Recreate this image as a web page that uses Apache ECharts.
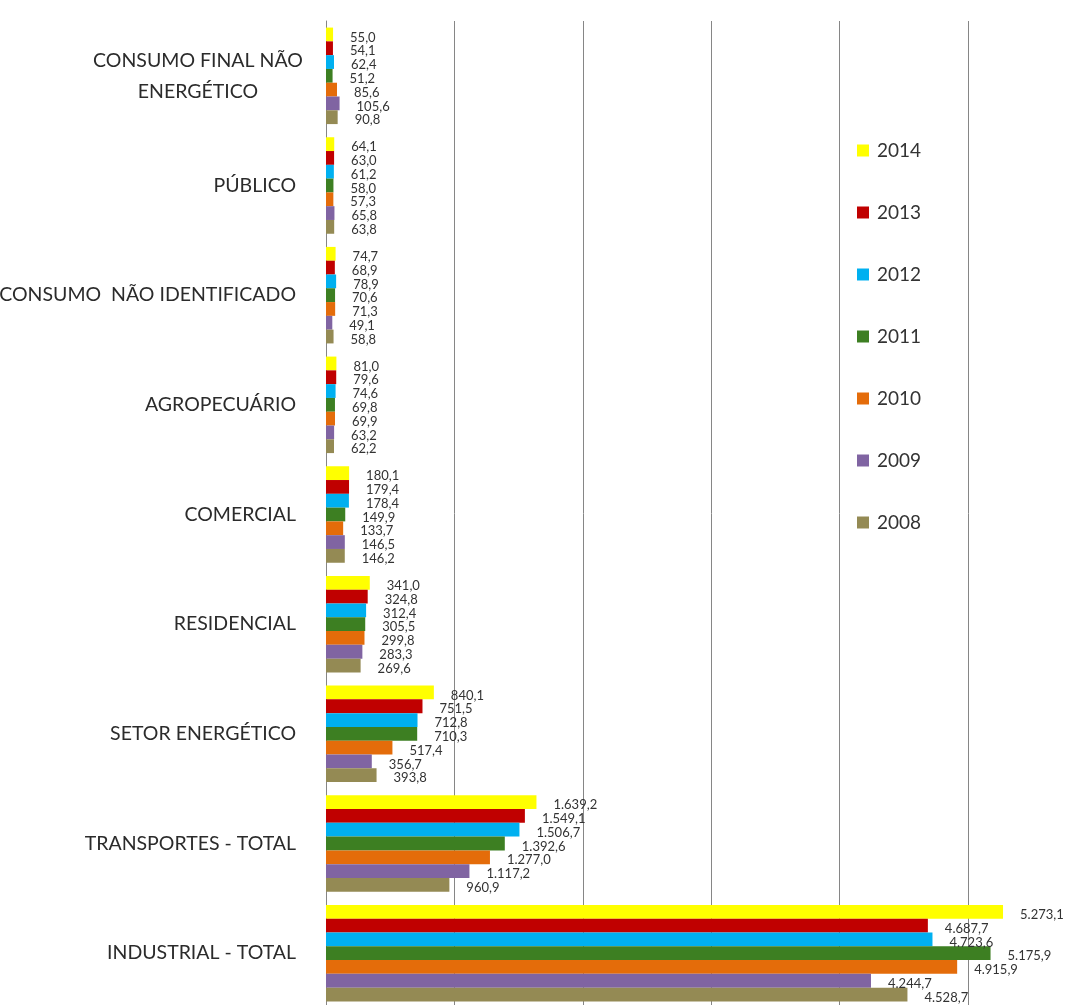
<!DOCTYPE html>
<html>
<head>
<meta charset="utf-8">
<script src="https://cdn.jsdelivr.net/npm/echarts@6/dist/echarts.min.js"></script>
<style>html,body{margin:0;padding:0;background:#fff}#c{width:1083px;height:1005px}</style>
</head>
<body>
<div id="c"></div>
<script>
const categories = ["CONSUMO FINAL NÃO\nENERGÉTICO", "PÚBLICO", "CONSUMO  NÃO IDENTIFICADO", "AGROPECUÁRIO", "COMERCIAL", "RESIDENCIAL", "SETOR ENERGÉTICO", "TRANSPORTES - TOTAL", "INDUSTRIAL - TOTAL"];
const years = ["2014", "2013", "2012", "2011", "2010", "2009", "2008"];
const v2014 = [55.0, 64.1, 74.7, 81.0, 180.1, 341.0, 840.1, 1639.2, 5273.1];
const v2013 = [54.1, 63.0, 68.9, 79.6, 179.4, 324.8, 751.5, 1549.1, 4687.7];
const v2012 = [62.4, 61.2, 78.9, 74.6, 178.4, 312.4, 712.8, 1506.7, 4723.6];
const v2011 = [51.2, 58.0, 70.6, 69.8, 149.9, 305.5, 710.3, 1392.6, 5175.9];
const v2010 = [85.6, 57.3, 71.3, 69.9, 133.7, 299.8, 517.4, 1277.0, 4915.9];
const v2009 = [105.6, 65.8, 49.1, 63.2, 146.5, 283.3, 356.7, 1117.2, 4244.7];
const v2008 = [90.8, 63.8, 58.8, 62.2, 146.2, 269.6, 393.8, 960.9, 4528.7];
const seriesValues = [v2014, v2013, v2012, v2011, v2010, v2009, v2008];
const colors = ["#FFFF00", "#C00000", "#00B0F0", "#3D7F22", "#E46C0A", "#8064A2", "#948A54"];

function fmt(v) {
  const parts = v.toFixed(1).split(".");
  const intPart = parts[0].replace(/\B(?=(\d{3})+(?!\d))/g, ".");
  return intPart + "," + parts[1];
}

const chart = echarts.init(document.getElementById('c'), null, {renderer: 'canvas'});
chart.setOption({
  animation: false,
  backgroundColor: '#fff',
  textStyle: {fontFamily: 'Lato'},
  grid: {left: 326, top: 21, width: 757, height: 987, containLabel: false, outerBoundsMode: 'none'},
  legend: {
    orient: 'vertical', left: 852, top: 136,
    itemWidth: 12, itemHeight: 12, itemGap: 43,
    icon: 'rect',
    textStyle: {fontSize: 19, color: '#333', fontFamily: 'Lato', padding: [0, 0, 0, 3]},
    data: years
  },
  xAxis: {
    type: 'value', min: 0, max: 5896, interval: 1000,
    axisLabel: {show: false}, axisTick: {show: false}, axisLine: {show: false},
    splitLine: {show: true, showMaxLine: false, lineStyle: {color: '#868686', width: 1}}
  },
  yAxis: {
    type: 'category', inverse: true, data: categories,
    axisTick: {show: false},
    axisLine: {show: true, lineStyle: {color: '#868686', width: 1}},
    axisLabel: {fontSize: 19.5, color: '#2b2b2b', margin: 30, align: 'right', lineHeight: 31, fontFamily: 'Lato',
      formatter: function (v) {
        if (v.indexOf('\n') >= 0) {
          return v.split('\n').map(s => '{c|' + s + '}').join('\n');
        }
        return v;
      },
      rich: {c: {width: 196, align: 'center', fontSize: 19.5, color: '#2b2b2b', fontFamily: 'Lato', lineHeight: 31}}
    }
  },
  series: years.map((y, i) => ({
    name: y, type: 'bar', data: seriesValues[i],
    barGap: '0%', barCategoryGap: '12%',
    itemStyle: {color: colors[i]},
    label: {show: true, position: 'right', distance: 5, offset: [12, 3],
      fontSize: 13, color: '#333', fontFamily: 'Lato',
      formatter: p => fmt(p.value)}
  }))
});
</script>
</body>
</html>
